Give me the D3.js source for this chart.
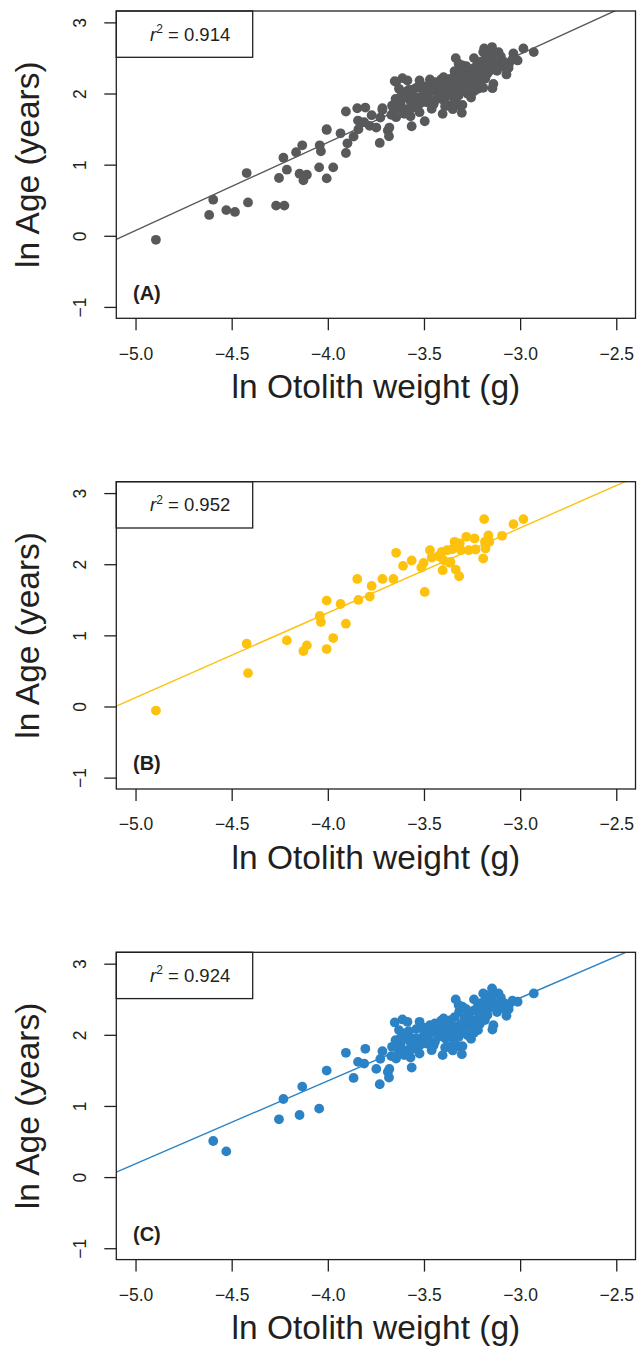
<!DOCTYPE html>
<html><head><meta charset="utf-8">
<script src="https://cdn.jsdelivr.net/npm/d3@7"></script>
<style>
body{margin:0;background:#fff}
svg{display:block}
text{font-family:"Liberation Sans",Arial,Helvetica,sans-serif;fill:#231f20}
</style>
</head><body>
<svg id="chart" width="638" height="1351"></svg>
<script>
// ---------- data ----------
const xTicks = [-5.0, -4.5, -4.0, -3.5, -3.0, -2.5];
const yTicks = [-1, 0, 1, 2, 3];
const panelLabels = ["(A)", "(B)", "(C)"];
const r2Values = ["0.914", "0.952", "0.924"];
const slopes = [1.2385, 1.193, 1.166];
const intercepts = [6.267, 6.089, 6.017];
const colors = ["#58595b", "#fdc20e", "#2b83c6"];
const xLabel = "ln Otolith weight (g)";
const yLabel = "ln Age (years)";

// group B (panel B)
const groupBx = [-4.894,-4.422,-4.415,-4.213,-4.127,-4.109,-4.006,-3.972,-4.042,-4.036,-4.006,-3.934,-3.906,-3.847,-3.841,-3.782,-3.772,-3.716,-3.659,-3.645,-3.609,-3.564,-3.514,-3.496,-3.502,-3.469,-3.460,-3.425,-3.407,-3.403,-3.380,-3.362,-3.353,-3.341,-3.335,-3.317,-3.314,-3.308,-3.280,-3.267,-3.237,-3.232,-3.192,-3.187,-3.180,-3.165,-3.160,-3.183,-3.094,-3.035,-2.983,-3.398,-3.366];
const groupBy = [-0.057,0.882,0.469,0.929,0.779,0.859,0.807,0.962,1.272,1.188,1.488,1.441,1.164,1.793,1.498,1.545,1.695,1.793,1.793,2.160,1.977,2.052,1.953,1.610,2.019,2.197,2.094,2.113,2.174,1.916,2.197,2.033,2.211,2.315,1.925,1.831,2.291,2.197,2.385,2.197,2.362,2.207,2.080,2.634,2.221,2.404,2.315,2.315,2.399,2.564,2.634,2.056,2.019];

// group C (panel C)
const groupCx = [-4.596,-4.528,-4.254,-4.231,-4.147,-4.133,-4.045,-4.006,-3.906,-3.866,-3.843,-3.811,-3.805,-3.748,-3.730,-3.727,-3.716,-3.688,-3.680,-3.682,-3.670,-3.652,-3.564,-3.403,-3.303,-2.929,-3.146,-3.144,-3.139,-3.071,-3.255,
 -3.612,-3.586,-3.523,-3.630,-3.603,-3.469,-3.443,-3.648,-3.621,-3.595,-3.568,-3.630,-3.603,-3.577,-3.550,-3.523,-3.541,-3.505,-3.487,-3.460,-3.496,-3.434,-3.407,-3.380,-3.398,-3.362,-3.425,-3.389,-3.362,-3.344,-3.326,-3.300,-3.335,-3.308,-3.282,-3.290,-3.317,-3.335,-3.300,-3.264,-3.273,-3.246,-3.228,-3.237,-3.240,-3.219,-3.201,-3.192,-3.174,-3.165,-3.183,-3.147,-3.130,-3.112,-3.103,-3.085,-3.058,-3.040,-3.013,-3.219,-3.371,-3.443,-3.469,-3.273,-3.666,-3.645,
 -3.62,-3.58,-3.56,-3.54,-3.52,-3.50,-3.48,-3.46,-3.45,-3.42,-3.41,-3.39,-3.37,-3.35,-3.34,-3.32,-3.31,-3.29,-3.28,-3.27,-3.25,-3.24,-3.22,-3.21,-3.20,-3.19,-3.17,-3.16,-3.14,-3.12,-3.10,-3.08,-3.06,-3.64,-3.60,-3.57,-3.39,-3.35,-3.32,-3.18];
const groupCy = [0.507,0.361,0.812,1.098,0.873,1.272,0.962,1.498,1.747,1.394,1.620,1.596,1.803,1.521,1.305,1.662,1.770,1.479,1.521,1.399,1.700,2.174,1.540,1.714,1.728,2.582,2.653,2.075,2.136,2.268,1.944,
 2.216,2.183,2.183,2.066,2.019,2.136,2.160,1.925,1.878,1.948,1.878,1.784,1.714,1.761,1.808,1.737,1.948,1.972,1.878,1.784,2.042,2.066,2.113,2.160,2.230,2.207,1.972,1.948,2.019,1.925,1.840,1.840,2.113,2.042,2.113,2.230,2.324,2.498,2.395,2.301,2.183,2.113,2.207,2.348,2.498,2.418,2.291,2.582,2.465,2.371,2.207,2.535,2.395,2.582,2.441,2.371,2.418,2.479,2.465,2.066,1.831,1.901,2.019,1.995,1.831,1.667,
 1.96,2.05,1.95,2.08,1.86,2.10,1.96,2.06,1.85,2.04,2.20,2.06,2.12,2.03,2.25,1.97,2.15,2.05,2.36,2.26,2.20,2.03,2.32,2.15,2.45,2.38,2.28,2.50,2.45,2.32,2.52,2.44,2.36,1.84,1.78,1.68,1.82,1.78,2.42,2.56];

// fish shown only in the pooled panel A
const otherX = [-4.617,-4.483,-4.269,-4.226,-4.165,-3.898];
const otherY = [0.293,0.335,0.424,0.424,1.174,1.300];

// ---------- build ----------
const zip = (xs, ys) => xs.map((v, i) => ({x: v, y: ys[i]}));
const ptsB = zip(groupBx, groupBy);
const ptsC = zip(groupCx, groupCy);
const ptsA = zip(otherX, otherY).concat(ptsB, ptsC);
const panelData = [ptsA, ptsB, ptsC];
const offsets = [0, 470.7, 941.3];

const box = {l: 116.3, r: 635.5, t: 11, b: 318.3};
const x = d3.scaleLinear().domain([-5.1, -2.4]).range([box.l, box.r]);
const y = d3.scaleLinear().domain([-1.16, 3.16]).range([box.b, box.t]);
const ink = "#231f20";

const svg = d3.select("#chart");

panelData.forEach((pts, i) => {
  const g = svg.append("g").attr("transform", `translate(0,${offsets[i]})`);
  const clipId = "clip" + i;
  g.append("clipPath").attr("id", clipId).append("rect")
    .attr("x", box.l).attr("y", box.t).attr("width", box.r - box.l).attr("height", box.b - box.t);

  // regression line
  const [d0, d1] = x.domain();
  g.append("line")
    .attr("clip-path", `url(#${clipId})`)
    .attr("x1", x(d0)).attr("y1", y(intercepts[i] + slopes[i] * d0))
    .attr("x2", x(d1)).attr("y2", y(intercepts[i] + slopes[i] * d1))
    .attr("stroke", colors[i]).attr("stroke-width", 1.4);

  // points
  g.append("g").attr("clip-path", `url(#${clipId})`)
    .selectAll("circle").data(pts).join("circle")
    .attr("cx", d => x(d.x)).attr("cy", d => y(d.y)).attr("r", 4.9)
    .attr("fill", colors[i]);

  // legend box
  g.append("rect").attr("x", box.l).attr("y", box.t).attr("width", 136.4).attr("height", 46.3)
    .attr("fill", "#fff").attr("stroke", ink).attr("stroke-width", 1.3);
  const lt = g.append("text").attr("x", 150).attr("y", 40.5).attr("font-size", 18.5);
  lt.append("tspan").attr("font-style", "italic").text("r");
  lt.append("tspan").attr("font-size", 12).attr("dy", -7.5).text("2");
  lt.append("tspan").attr("dy", 7.5).text(" = " + r2Values[i]);

  // plot frame
  g.append("rect").attr("x", box.l).attr("y", box.t).attr("width", box.r - box.l).attr("height", box.b - box.t)
    .attr("fill", "none").attr("stroke", ink).attr("stroke-width", 1.3);

  // panel label
  g.append("text").attr("x", 133).attr("y", 299.5).attr("font-size", 20).attr("font-weight", "bold").text(panelLabels[i]);

  // x axis
  const ax = g.append("g").attr("transform", `translate(0,${box.b})`)
    .call(d3.axisBottom(x).tickValues(xTicks).tickFormat(d3.format(".1f")).tickSize(12).tickPadding(17));
  ax.select(".domain").remove();
  ax.attr("font-size", null).attr("font-family", null);
  ax.selectAll("line").attr("stroke", ink).attr("stroke-width", 1.3);
  ax.selectAll("text").attr("font-size", 17.5).attr("fill", ink);

  // y axis
  const ay = g.append("g").attr("transform", `translate(${box.l},0)`)
    .call(d3.axisLeft(y).tickValues(yTicks).tickFormat(d3.format("d")).tickSize(12));
  ay.select(".domain").remove();
  ay.attr("font-size", null).attr("font-family", null);
  ay.selectAll("line").attr("stroke", ink).attr("stroke-width", 1.3);
  ay.selectAll("text").attr("x", null).attr("dy", null).attr("text-anchor", "middle")
    .attr("transform", "translate(-30.5,0) rotate(-90)").attr("font-size", 17.5).attr("fill", ink);

  // axis titles
  g.append("text").attr("x", (box.l + box.r) / 2).attr("y", 398).attr("text-anchor", "middle")
    .attr("font-size", 33.5).text(xLabel);
  g.append("text").attr("transform", `translate(38.5,${(box.t + box.b) / 2}) rotate(-90)`)
    .attr("text-anchor", "middle").attr("font-size", 33.5).text(yLabel);
});
</script>
</body></html>
